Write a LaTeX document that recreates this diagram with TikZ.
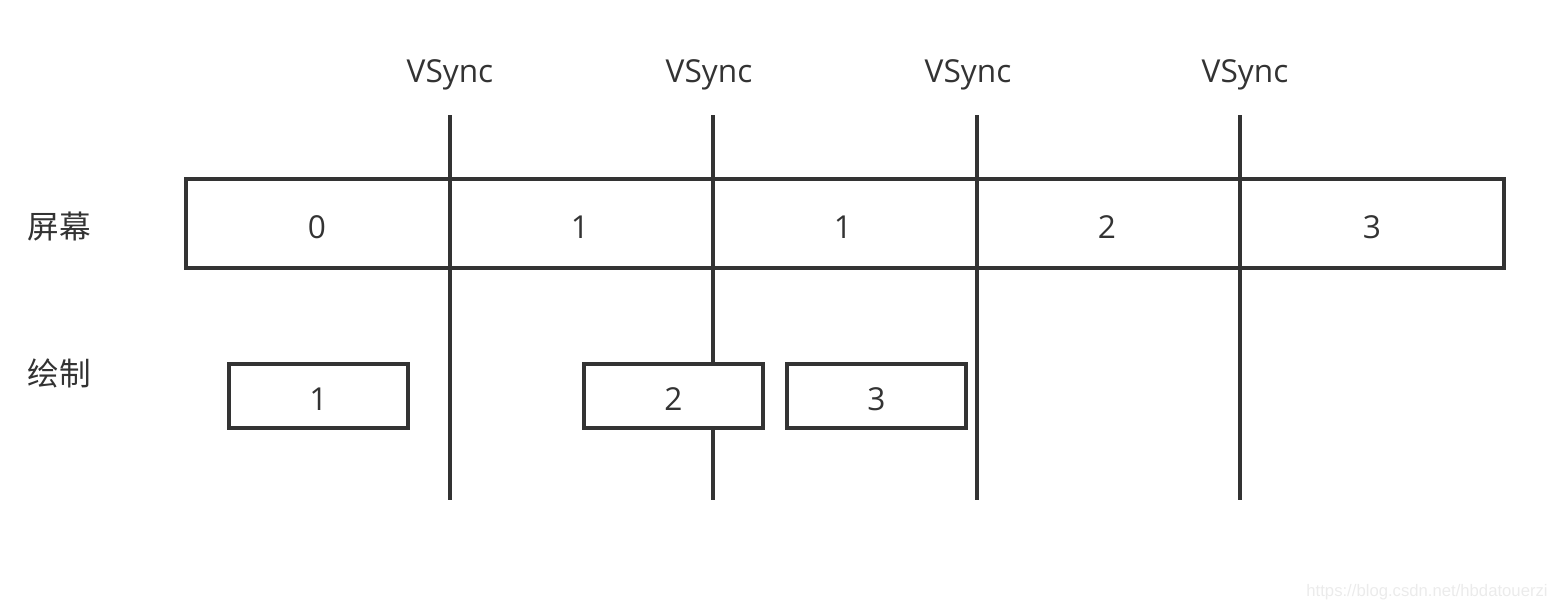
\documentclass[tikz,border=0pt]{standalone}
\usepackage{fontspec}
\setmainfont{Open Sans}
\newfontfamily\cjk{Noto Sans CJK SC}
\newfontfamily\markfont{Liberation Sans}
\usetikzlibrary{positioning}
\definecolor{ink}{HTML}{333333}
\tikzset{
  lbl/.style={text=ink,font=\fontsize{18}{20}\selectfont,inner sep=0pt},
  frame/.style={draw=ink,line width=2.3pt,inner sep=0pt},
  vline/.style={draw=ink,line width=2.3pt},
}

\begin{document}
\begin{tikzpicture}[x=0.02cm,y=-0.02cm]
   \useasboundingbox (0,0) rectangle (1552,610);
   % vsync lines
   \foreach \i/\x/\lx in {1/450/450,2/713/709,3/977/968,4/1240/1245} {
     \coordinate (vs_top\i) at (\x,115);
     \coordinate (vs_bot\i) at (\x,500);
     \node[lbl] (vs_\i) at (\lx,75) {VSync};
     \draw[vline] (vs_top\i) -- (vs_bot\i);
   }
   % screen row
   \node[frame,minimum width=1318*0.02cm,minimum height=89*0.02cm] (screen) at (845,223.5) {};
   \node[lbl] (row_screen) at (59,227) {\cjk 屏幕};
   \node[lbl] (s_0) at (317,227) {0};
   \node[lbl] (s_1) at (580,227) {1};
   \node[lbl] (s_2) at (843,227) {1};
   \node[lbl] (s_3) at (1107,227) {2};
   \node[lbl] (s_4) at (1372,227) {3};
   % draw row
   \node[lbl] (row_draw) at (59,373) {\cjk 绘制};
   \node[frame,fill=white,minimum width=179*0.02cm,minimum height=64*0.02cm] (d_1) at (318.5,396) {};
   \node[frame,fill=white,minimum width=179*0.02cm,minimum height=64*0.02cm] (d_2) at (673.5,396) {};
   \node[frame,fill=white,minimum width=179*0.02cm,minimum height=64*0.02cm] (d_3) at (876.5,396) {};
   \node[lbl] at ([yshift=-3*0.02cm]d_1) {1};
   \node[lbl] at ([yshift=-3*0.02cm]d_2) {2};
   \node[lbl] at ([yshift=-3*0.02cm]d_3) {3};
   \node[text=black!8,font=\fontsize{9.5}{11}\markfont,inner sep=0pt,anchor=east] (mark) at (1548,592) {https://blog.csdn.net/hbdatouerzi};
\end{tikzpicture}
\end{document}
